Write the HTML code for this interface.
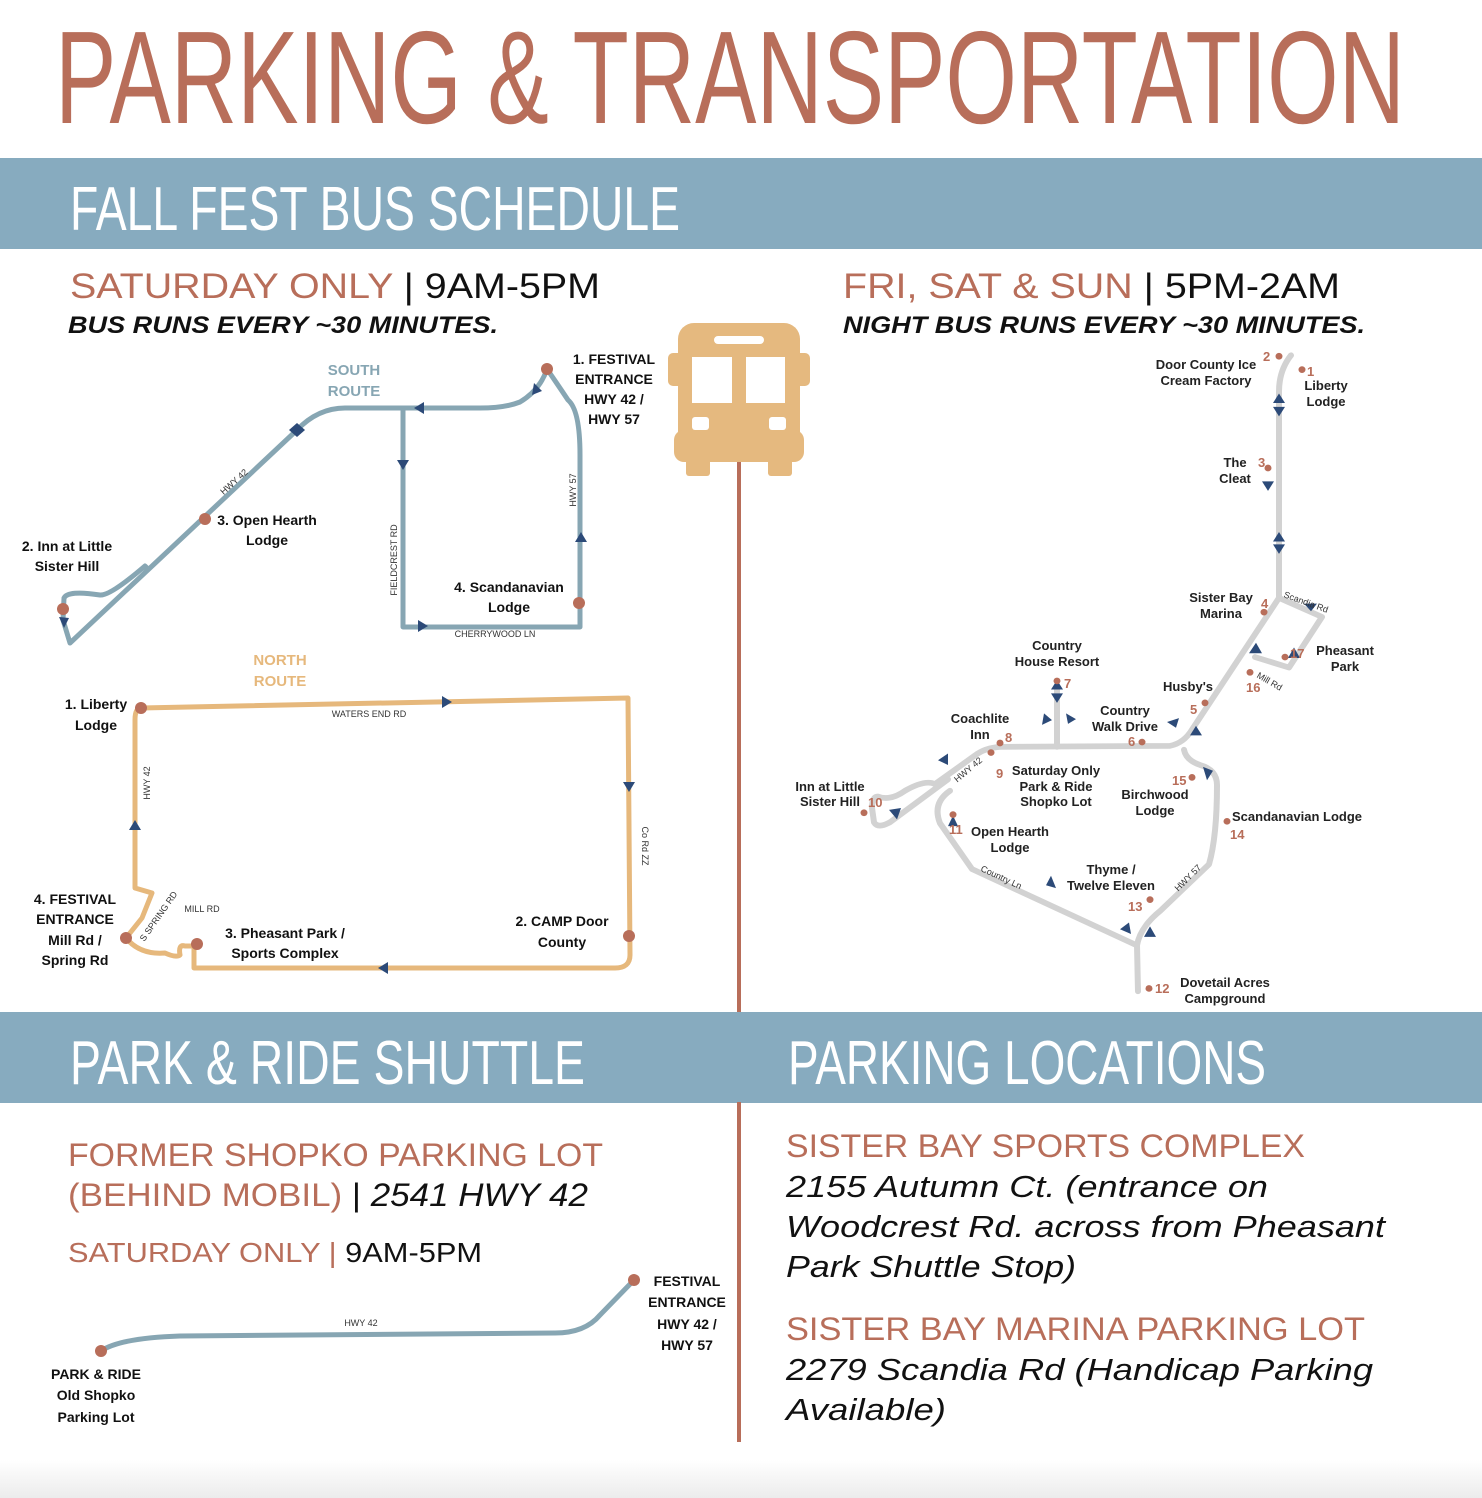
<!DOCTYPE html>
<html><head><meta charset="utf-8"><style>
html,body{margin:0;padding:0;background:#fff;}
svg{display:block;}
.t{font-family:"Liberation Sans",sans-serif;}
.lb{font-family:"Liberation Sans",sans-serif;font-weight:bold;font-size:14px;fill:#111;}
.rl{font-family:"Liberation Sans",sans-serif;font-weight:bold;font-size:13px;fill:#222;}
.rn{font-family:"Liberation Sans",sans-serif;font-weight:bold;font-size:13px;fill:#b86e5a;}
.sm{font-family:"Liberation Sans",sans-serif;font-size:9px;fill:#333;}
</style></head><body>
<svg width="1482" height="1498" viewBox="0 0 1482 1498" xmlns="http://www.w3.org/2000/svg">
<defs>
<linearGradient id="bg" x1="0" y1="0" x2="0" y2="1"><stop offset="0" stop-color="#fff"/><stop offset="1" stop-color="#ececec"/></linearGradient>
</defs>
<rect x="0" y="1460" width="1482" height="38" fill="url(#bg)"/>
<!-- Title -->
<text class="t" x="55" y="123" font-size="132" fill="#b86e5a" textLength="1350" lengthAdjust="spacingAndGlyphs">PARKING &amp; TRANSPORTATION</text>
<!-- bands -->
<rect x="0" y="158" width="1482" height="91" fill="#87abbf"/>
<text class="t" x="70" y="230" font-size="62" fill="#fff" textLength="610" lengthAdjust="spacingAndGlyphs">FALL FEST BUS SCHEDULE</text>
<rect x="0" y="1012" width="1482" height="91" fill="#87abbf"/>
<text class="t" x="70" y="1084" font-size="62" fill="#fff" textLength="515" lengthAdjust="spacingAndGlyphs">PARK &amp; RIDE SHUTTLE</text>
<text class="t" x="788" y="1084" font-size="62" fill="#fff" textLength="478" lengthAdjust="spacingAndGlyphs">PARKING LOCATIONS</text>
<!-- vertical line -->
<line x1="739" y1="460" x2="739" y2="1012" stroke="#b86e5a" stroke-width="4"/>
<line x1="739" y1="1102" x2="739" y2="1442" stroke="#b86e5a" stroke-width="4"/>
<!-- bus -->
<g fill="#e5b97f">
<rect x="678" y="323" width="122" height="130" rx="16"/>
<rect x="668" y="353" width="142" height="33" rx="5"/>
<rect x="674" y="430" width="130" height="32" rx="10"/>
<rect x="686" y="450" width="24" height="26" rx="3"/>
<rect x="768" y="450" width="24" height="26" rx="3"/>
</g>
<g fill="#fff">
<rect x="714" y="336" width="50" height="8" rx="4"/>
<rect x="692" y="357" width="40" height="46"/>
<rect x="746" y="357" width="39" height="46"/>
<rect x="692" y="417" width="17" height="13" rx="3"/>
<rect x="769" y="417" width="17" height="13" rx="3"/>
</g>
<!-- headings -->
<text class="t" x="70" y="298" font-size="35" textLength="530" lengthAdjust="spacingAndGlyphs"><tspan fill="#b86e5a">SATURDAY ONLY</tspan><tspan fill="#111"> | 9AM-5PM</tspan></text>
<text class="t" x="68" y="333" font-size="24" font-weight="bold" font-style="italic" fill="#111" textLength="430" lengthAdjust="spacingAndGlyphs">BUS RUNS EVERY ~30 MINUTES.</text>
<text class="t" x="843" y="298" font-size="35" textLength="497" lengthAdjust="spacingAndGlyphs"><tspan fill="#b86e5a">FRI, SAT &amp; SUN</tspan><tspan fill="#111"> | 5PM-2AM</tspan></text>
<text class="t" x="843" y="333" font-size="24" font-weight="bold" font-style="italic" fill="#111" textLength="522" lengthAdjust="spacingAndGlyphs">NIGHT BUS RUNS EVERY ~30 MINUTES.</text>

<!-- SOUTH ROUTE -->
<g fill="none" stroke="#87a6b3" stroke-width="5" stroke-linejoin="round">
<path d="M547,369 Q540,390 520,402 Q505,408 480,408 L345,408 Q318,408 297,430 L70,643 L63,620 L64,598 Q68,590 100,595 Q110,596 145,566 L150,571"/>
<path d="M403,408 L403,627 L580,627 L580,455 Q580,410 568,400 Q558,385 547,369"/>
</g>
<g fill="#2c4a78">
<path d="M414,408 l10,-6 v12z"/>
<path d="M403,470 l-6,-10 h12z"/>
<path d="M428,626 l-10,-6 v12z"/>
<path d="M581,532 l-6,10 h12z"/>
<path d="M532,395 l2,-12 l8,8z"/>
<path d="M64,628 l-5,-11 l10,1z"/>
<path d="M297,423 l8,7 l-8,7 l-8,-7z"/>
</g>
<text class="t" x="354" y="375" font-size="15" font-weight="bold" fill="#87a6b3" text-anchor="middle">SOUTH</text>
<text class="t" x="354" y="396" font-size="15" font-weight="bold" fill="#87a6b3" text-anchor="middle">ROUTE</text>
<text class="sm" x="0" y="0" transform="translate(236,484) rotate(-42)" text-anchor="middle">HWY 42</text>
<text class="sm" x="0" y="0" transform="translate(397,560) rotate(-90)" text-anchor="middle">FIELDCREST RD</text>
<text class="sm" x="0" y="0" transform="translate(576,490) rotate(-90)" text-anchor="middle">HWY 57</text>
<text class="sm" x="495" y="637" text-anchor="middle">CHERRYWOOD LN</text>
<g fill="#b86e5a"><circle cx="547" cy="369" r="6"/><circle cx="205" cy="519" r="6"/><circle cx="63" cy="609" r="6"/><circle cx="579" cy="603" r="6"/></g>
<g class="lb" text-anchor="middle">
<text x="614" y="364">1. FESTIVAL</text><text x="614" y="384">ENTRANCE</text><text x="614" y="404">HWY 42 /</text><text x="614" y="424">HWY 57</text>
<text x="267" y="525">3. Open Hearth</text><text x="267" y="545">Lodge</text>
<text x="67" y="551">2. Inn at Little</text><text x="67" y="571">Sister Hill</text>
<text x="509" y="592">4. Scandanavian</text><text x="509" y="612">Lodge</text>
</g>

<!-- NORTH ROUTE -->
<path d="M141,708 L628,698 L630,955 Q630,968 615,968 L194,968 L194,946 L185,946 Q178,944 180,955 Q176,958 165,953 Q140,955 126,938 L142,918 L152,893 L135,888 L135,720 Q135,708 141,708 Z" fill="none" stroke="#e6b87c" stroke-width="5" stroke-linejoin="round"/>
<g fill="#2c4a78">
<path d="M452,702 l-10,-6 v12z"/>
<path d="M629,792 l-6,-10 h12z"/>
<path d="M378,968 l10,-6 v12z"/>
<path d="M135,820 l-6,10 h12z"/>
</g>
<text class="t" x="280" y="665" font-size="15" font-weight="bold" fill="#e6b87c" text-anchor="middle">NORTH</text>
<text class="t" x="280" y="686" font-size="15" font-weight="bold" fill="#e6b87c" text-anchor="middle">ROUTE</text>
<text class="sm" x="369" y="717" text-anchor="middle">WATERS END RD</text>
<text class="sm" x="0" y="0" transform="translate(150,783) rotate(-90)" text-anchor="middle">HWY 42</text>
<text class="sm" x="0" y="0" transform="translate(642,846) rotate(90)" text-anchor="middle">Co Rd ZZ</text>
<text class="sm" x="0" y="0" transform="translate(161,918) rotate(-55)" text-anchor="middle">S SPRING RD</text>
<text class="sm" x="202" y="912" text-anchor="middle">MILL RD</text>
<g fill="#b86e5a"><circle cx="141" cy="708" r="6"/><circle cx="629" cy="936" r="6"/><circle cx="197" cy="944" r="6"/><circle cx="126" cy="938" r="6"/></g>
<g class="lb" text-anchor="middle">
<text x="96" y="709">1. Liberty</text><text x="96" y="730">Lodge</text>
<text x="75" y="904">4. FESTIVAL</text><text x="75" y="924">ENTRANCE</text><text x="75" y="945">Mill Rd /</text><text x="75" y="965">Spring Rd</text>
<text x="285" y="938">3. Pheasant Park /</text><text x="285" y="958">Sports Complex</text>
<text x="562" y="926">2. CAMP Door</text><text x="562" y="947">County</text>
</g>

<!-- NIGHT MAP -->
<g transform="matrix(1 0 0 0.955 0 15.3)">
<g fill="none" stroke="#d2d2d2" stroke-width="6" stroke-linejoin="round" stroke-linecap="round">
<path d="M1291,356 Q1279,372 1279,394 L1279,610 L1192,748 Q1184,762 1170,765 L1000,766 Q985,767 975,775 L935,805 Q925,800 905,812 Q890,823 878,818 Q872,818 872,830 L874,845 Q878,852 890,845 L948,800"/>
<path d="M1279,610 L1322,630 L1289,683 L1255,672"/>
<path d="M1057,766 L1057,706"/>
<path d="M950,812 Q932,825 940,846 L972,894 L1137,974 L1138,1022"/>
<path d="M1137,974 Q1140,955 1160,938 L1209,889 Q1217,860 1217,806 Q1217,790 1200,785 Q1186,780 1184,769"/>
</g>
<g fill="#2c4a78">
<path d="M1279,396 l-6,10 h12z"/><path d="M1279,420 l-6,-10 h12z"/>
<path d="M1268,498 l-6,-10 h12z"/>
<path d="M1279,541 l-6,10 h12z"/><path d="M1279,564 l-6,-10 h12z"/>
<path d="M1311,624 l-7,-8 h13z"/>
<path d="M1256,657 l-7,11 h13z"/><path d="M1294,662 l-6,11 h12z"/>
<path d="M1057,696 l-6,10 h12z"/><path d="M1057,720 l-6,-10 h12z"/>
<path d="M1042,743 l2,-12 l8,7z"/><path d="M1066,731 l10,6 l-8,5z"/>
<path d="M1167,740 l12,-4 l-3,10z"/><path d="M1196,744 l-6,10 h12z"/>
<path d="M938,780 l10,-7 v12z"/>
<path d="M897,842 l-8,-10 l12,-2z"/>
<path d="M953,838 l-5,11 l10,0z"/>
<path d="M1056,914 l-10,-3 l5,-10z"/>
<path d="M1131,962 l-2,-12 l-9,7z"/><path d="M1150,954 l-6,11 h12z"/>
<path d="M1203,787 l10,4 l-6,10z"/>
</g>
<g fill="#b86e5a">
<circle cx="1279" cy="357" r="3.5"/><circle cx="1302" cy="371" r="3.5"/><circle cx="1268" cy="474" r="3.5"/>
<circle cx="1264" cy="625" r="3.5"/><circle cx="1285" cy="672" r="3.5"/><circle cx="1250" cy="688" r="3.5"/>
<circle cx="1205" cy="720" r="3.5"/><circle cx="1142" cy="761" r="3.5"/><circle cx="1057" cy="697" r="3.5"/>
<circle cx="1000" cy="762" r="3.5"/><circle cx="991" cy="772" r="3.5"/><circle cx="864" cy="835" r="3.5"/>
<circle cx="953" cy="837" r="3.5"/><circle cx="1192" cy="798" r="3.5"/><circle cx="1227" cy="844" r="3.5"/>
<circle cx="1150" cy="926" r="3.5"/><circle cx="1149" cy="1019" r="3.5"/>
</g>
</g>
<g class="rn">
<text x="1263" y="361">2</text><text x="1307" y="376">1</text><text x="1258" y="467">3</text>
<text x="1261" y="608">4</text><text x="1290" y="658">17</text><text x="1246" y="692">16</text>
<text x="1190" y="714">5</text><text x="1128" y="746">6</text><text x="1064" y="688">7</text>
<text x="1005" y="742">8</text><text x="996" y="778">9</text><text x="868" y="807">10</text>
<text x="949" y="834">11</text><text x="1172" y="785">15</text><text x="1230" y="839">14</text>
<text x="1128" y="911">13</text><text x="1155" y="993">12</text>
</g>
<g class="rl" text-anchor="middle">
<text x="1206" y="369">Door County Ice</text><text x="1206" y="385">Cream Factory</text>
<text x="1326" y="390">Liberty</text><text x="1326" y="406">Lodge</text>
<text x="1235" y="467">The</text><text x="1235" y="483">Cleat</text>
<text x="1221" y="602">Sister Bay</text><text x="1221" y="618">Marina</text>
<text x="1345" y="655">Pheasant</text><text x="1345" y="671">Park</text>
<text x="1057" y="650">Country</text><text x="1057" y="666">House Resort</text>
<text x="1188" y="691">Husby's</text>
<text x="1125" y="715">Country</text><text x="1125" y="731">Walk Drive</text>
<text x="980" y="723">Coachlite</text><text x="980" y="739">Inn</text>
<text x="1056" y="775">Saturday Only</text><text x="1056" y="791">Park &amp; Ride</text><text x="1056" y="806">Shopko Lot</text>
<text x="830" y="791">Inn at Little</text><text x="830" y="806">Sister Hill</text>
<text x="1155" y="799">Birchwood</text><text x="1155" y="815">Lodge</text>
<text x="1010" y="836">Open Hearth</text><text x="1010" y="852">Lodge</text>
<text x="1111" y="874">Thyme /</text><text x="1111" y="890">Twelve Eleven</text>
<text x="1225" y="987">Dovetail Acres</text><text x="1225" y="1003">Campground</text>
</g>
<text class="rl" x="1232" y="821">Scandanavian Lodge</text>
<text class="sm" transform="translate(1305,605) rotate(20)" text-anchor="middle">Scandia Rd</text>
<text class="sm" transform="translate(1268,684) rotate(30)" text-anchor="middle">Mill Rd</text>
<text class="sm" transform="translate(970,772) rotate(-40)" text-anchor="middle">HWY 42</text>
<text class="sm" transform="translate(1000,880) rotate(25)" text-anchor="middle">Country Ln</text>
<text class="sm" transform="translate(1190,880) rotate(-45)" text-anchor="middle">HWY 57</text>

<!-- PARK & RIDE -->
<text class="t" x="68" y="1166" font-size="32" fill="#b86e5a" textLength="535" lengthAdjust="spacingAndGlyphs">FORMER SHOPKO PARKING LOT</text>
<text class="t" x="68" y="1206" font-size="32" textLength="520" lengthAdjust="spacingAndGlyphs"><tspan fill="#b86e5a">(BEHIND MOBIL)</tspan><tspan fill="#111"> | </tspan><tspan fill="#111" font-style="italic">2541 HWY 42</tspan></text>
<text class="t" x="68" y="1262" font-size="28" textLength="414" lengthAdjust="spacingAndGlyphs"><tspan fill="#b86e5a">SATURDAY ONLY | </tspan><tspan fill="#111">9AM-5PM</tspan></text>
<path d="M101,1351 Q120,1338 180,1336 L555,1333 Q585,1333 600,1315 L634,1280" fill="none" stroke="#87a6b3" stroke-width="5"/>
<circle cx="101" cy="1351" r="6" fill="#b86e5a"/><circle cx="634" cy="1280" r="6" fill="#b86e5a"/>
<text class="sm" x="361" y="1326" text-anchor="middle">HWY 42</text>
<g class="lb" text-anchor="middle">
<text x="687" y="1286">FESTIVAL</text><text x="687" y="1307">ENTRANCE</text><text x="687" y="1329">HWY 42 /</text><text x="687" y="1350">HWY 57</text>
<text x="96" y="1379">PARK &amp; RIDE</text><text x="96" y="1400">Old Shopko</text><text x="96" y="1422">Parking Lot</text>
</g>

<!-- PARKING LOCATIONS -->
<text class="t" x="786" y="1157" font-size="32" fill="#b86e5a" textLength="519" lengthAdjust="spacingAndGlyphs">SISTER BAY SPORTS COMPLEX</text>
<g class="t" font-size="31" font-style="italic" fill="#111">
<text x="786" y="1197" textLength="482" lengthAdjust="spacingAndGlyphs">2155 Autumn Ct. (entrance on</text>
<text x="786" y="1237" textLength="599" lengthAdjust="spacingAndGlyphs">Woodcrest Rd. across from Pheasant</text>
<text x="786" y="1277" textLength="290" lengthAdjust="spacingAndGlyphs">Park Shuttle Stop)</text>
<text x="786" y="1380" textLength="587" lengthAdjust="spacingAndGlyphs">2279 Scandia Rd (Handicap Parking</text>
<text x="786" y="1420" textLength="160" lengthAdjust="spacingAndGlyphs">Available)</text>
</g>
<text class="t" x="786" y="1340" font-size="32" fill="#b86e5a" textLength="579" lengthAdjust="spacingAndGlyphs">SISTER BAY MARINA PARKING LOT</text>
</svg>
</body></html>
